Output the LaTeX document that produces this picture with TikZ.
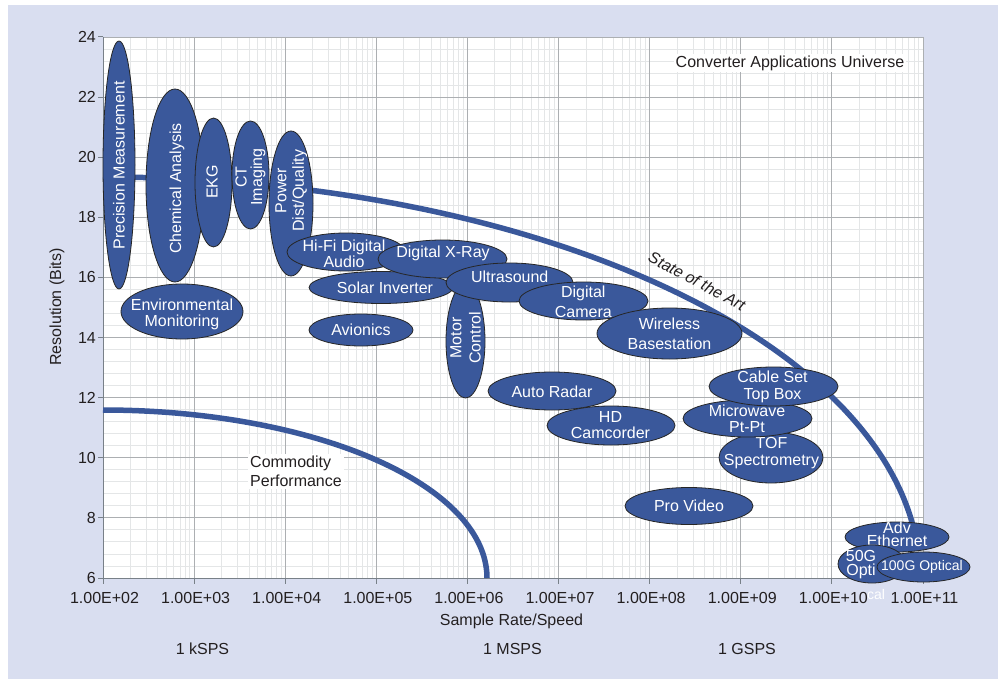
\documentclass[tikz,border=0pt]{standalone}
\usepackage{fontspec}
\setmainfont{Liberation Sans}
\definecolor{ablue}{RGB}{58,88,155}
\definecolor{lav}{RGB}{217,222,240}
\definecolor{ink}{RGB}{35,31,32}
\definecolor{gmin}{RGB}{228,230,231}
\definecolor{gmaj}{RGB}{172,175,178}
\definecolor{axc}{RGB}{120,128,136}
\begin{document}
\begin{tikzpicture}[x=1pt,y=-1pt,
  gminor/.style={draw=gmin,line width=0.9pt},
  gmajor/.style={draw=gmaj,line width=0.9pt},
  axisl/.style={draw=axc,line width=1pt},
  tick/.style={text=ink,font=\fontsize{16}{17}\selectfont,inner sep=0pt},
  curve/.style={draw=ablue,line width=5.5pt},
  appl/.style={draw=black!85,line width=0.8pt,fill=ablue},
  lbl/.style={text=white,align=center,inner sep=0pt,font=\fontsize{16}{#1}\selectfont},
  lbl/.default=16.5,
  boxed/.style={fill=white,text=ink,inner sep=2pt,font=\fontsize{16}{19}\selectfont}]
\useasboundingbox (0,0) rectangle (998,679);
\fill[white] (0,0) rectangle (998,679);
\fill[lav] (8,5) rectangle (998,679);
\fill[white] (103,37) rectangle (923,578);
% grid
\foreach \i in {1,...,44}{
  \pgfmathsetmacro\yy{37+12.0222*\i}
  \draw[gminor] (103,\yy) -- (923,\yy);}
\foreach \d in {0,...,8}{
  \foreach \k in {2,...,9}{
    \pgfmathsetmacro\xx{103+91.111*(\d+log10(\k))}
    \draw[gminor] (\xx,37) -- (\xx,578);}}
\foreach \b in {0,...,8}{
  \pgfmathsetmacro\yy{37+60.111*\b}
  \draw[gmajor] (103,\yy) -- (923,\yy);}
\foreach \d in {1,...,9}{
  \pgfmathsetmacro\xx{103+91.111*\d}
  \draw[gmajor] (\xx,37) -- (\xx,578);}
\draw[axisl] (103,37) -- (103,578) -- (923,578);
% y ticks
\foreach \b in {6,8,...,24}{
  \pgfmathsetmacro\yy{578-30.0556*(\b-6)}
  \draw[axisl] (98,\yy) -- (103,\yy);
  \node[tick,anchor=east] (yl\b) at (96,\yy) {\b};}
% x ticks
\foreach \i/\e in {0/02,1/03,2/04,3/05,4/06,5/07,6/08,7/09,8/10,9/11}{
  \pgfmathsetmacro\xx{103+91.111*\i}
  \draw[axisl] (\xx,578) -- (\xx,584);
  \node[tick] (xl\i) at (\xx+1.5,598) {1.00E+\e};}
\node[tick,rotate=90] (ylab) at (57,307) {Resolution (Bits)};
\node[tick] (xlab) at (511.5,621) {Sample Rate/Speed};
\node[tick] (ks) at (202.5,649) {1 kSPS};
\node[tick] (ms) at (512.5,649) {1 MSPS};
\node[tick] (gs) at (747,649) {1 GSPS};
\node[boxed] (title) at (790,63) {Converter Applications Universe};
\node[boxed,align=left,font=\fontsize{16}{19.5}\selectfont] (comm) at (296,471.5) {Commodity\\Performance};
% curves
\draw[curve] plot[variable=\t,domain=270:356,samples=120,smooth] ({103+817*cos(\t)},{578+401*sin(\t)});
\draw[curve] plot[variable=\t,domain=270:360,samples=100,smooth] ({103+384*cos(\t)},{578+168*sin(\t)});
\node[tick,rotate=-28,font=\fontsize{16}{17}\selectfont\itshape] (sota) at (697,281) {State of the Art};
% applications
\draw[appl] (119,165) ellipse [x radius=16,y radius=124];
\node[lbl,rotate=90] (prec) at (119,165.5) {Precision Measurement};
\draw[appl] (175,185.5) ellipse [x radius=29,y radius=96.5];
\node[lbl,rotate=90] (chem) at (177,188.5) {Chemical Analysis};
\draw[appl] (213.5,182.5) ellipse [x radius=18.5,y radius=64.5];
\node[lbl,rotate=90] (ekg) at (212,182) {EKG};
\draw[appl] (250.5,175) ellipse [x radius=18.5,y radius=54];
\node[lbl=15.6,rotate=90] (ct) at (250.5,177) {CT\\Imaging};
\draw[appl] (291,203.5) ellipse [x radius=22,y radius=72.5];
\node[lbl=17.3,rotate=90] (power) at (291.3,190.7) {Power\\Dist/Quality};
\draw[appl] (182,311.5) ellipse [x radius=61,y radius=27.5];
\node[lbl=16] (env) at (182,314.7) {Environmental\\Monitoring};
\draw[appl] (346,252) ellipse [x radius=59,y radius=19];
\node[lbl=16] (hifi) at (344,253.7) {Hi-Fi Digital\\Audio};
\draw[appl] (381,287.5) ellipse [x radius=72,y radius=16];
\node[lbl] (solar) at (385,287.7) {Solar Inverter};
\draw[appl] (442.5,259) ellipse [x radius=64.5,y radius=19];
\node[lbl] (xray) at (443,253.5) {Digital X-Ray};
\draw[appl] (361,330) ellipse [x radius=52,y radius=16];
\node[lbl] (avio) at (361,330) {Avionics};
\draw[appl] (465.5,341) ellipse [x radius=19.5,y radius=57];
\node[lbl=19.3,rotate=90] (motor) at (465.5,338) {Motor\\Control};
\draw[appl] (509.5,282.5) ellipse [x radius=63.5,y radius=19.5];
\node[lbl] (ultra) at (509.7,276.7) {Ultrasound};
\draw[appl] (583.5,301) ellipse [x radius=64.5,y radius=19];
\node[lbl=20] (dcam) at (583.3,301.7) {Digital\\Camera};
\draw[appl] (669.5,333.5) ellipse [x radius=72.5,y radius=25.5];
\node[lbl=20] (wire) at (669.5,333.3) {Wireless\\Basestation};
\draw[appl] (552,391) ellipse [x radius=64,y radius=19];
\node[lbl] (radar) at (552,391.7) {Auto Radar};
\draw[appl] (611,425.5) ellipse [x radius=64,y radius=19.5];
\node[lbl=16.7] (hd) at (610.5,425) {HD\\Camcorder};
\draw[appl] (771,457.5) ellipse [x radius=52,y radius=25.5];
\node[lbl=16.7] (tof) at (771.5,453.3) {TOF\\Spectrometry};
\draw[appl] (747.5,418.5) ellipse [x radius=64.5,y radius=18.5];
\node[lbl=16] (micro) at (747,418.7) {Microwave\\Pt-Pt};
\draw[appl] (773.5,386.5) ellipse [x radius=64.5,y radius=19.5];
\node[lbl=16.7] (cable) at (772.5,386.7) {Cable Set\\Top Box};
\draw[appl] (689,506) ellipse [x radius=64,y radius=18.5];
\node[lbl] (pro) at (689,506) {Pro Video};
\draw[appl] (897,537) ellipse [x radius=52,y radius=15];
\node[lbl=13.5] (adv) at (897,534.5) {Adv\\Ethernet};
\draw[appl] (872,564) ellipse [x radius=34,y radius=19];
\node[lbl=13.5] (g50) at (861,564.5) {50G\\Opti};
\node[text=white,inner sep=0pt,font=\fontsize{14}{14}\selectfont] (g50b) at (876,594) {cal};
\draw[appl] (923.5,567) ellipse [x radius=46.5,y radius=15];
\node[lbl,font=\fontsize{14}{14}\selectfont] (g100) at (922,567) {100G Optical};
\end{tikzpicture}
\end{document}
